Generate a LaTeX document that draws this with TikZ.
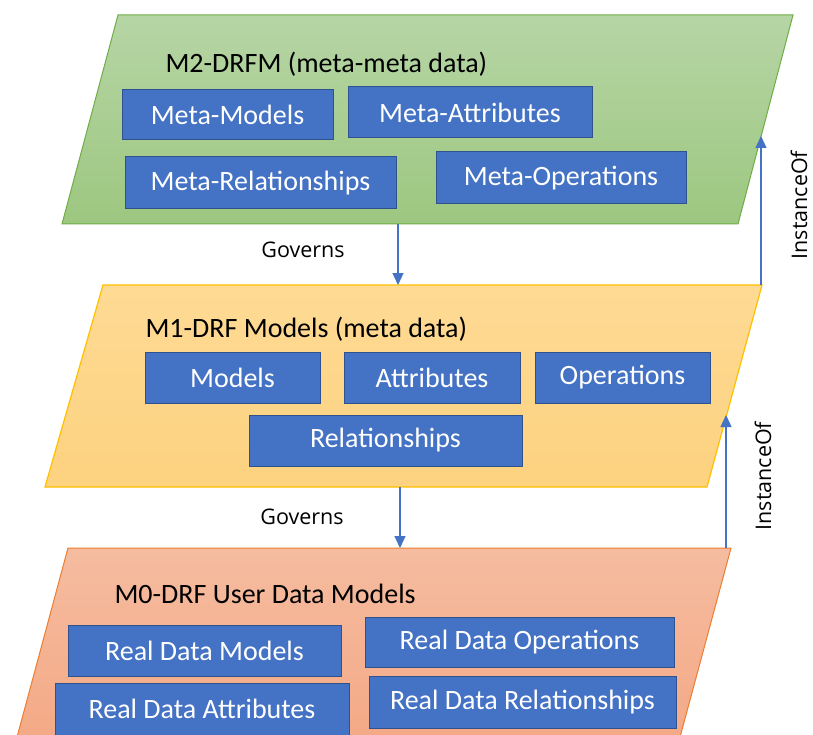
\documentclass[tikz,border=0pt]{standalone}
\usepackage{fontspec}
\setmainfont{Carlito}
\newfontfamily\tagfont{Open Sans}
\usetikzlibrary{arrows.meta}
\definecolor{boxblue}{HTML}{4472C4}
\definecolor{boxedge}{HTML}{2F528F}
\definecolor{greenedge}{HTML}{70AD47}
\definecolor{yellowedge}{HTML}{FFC000}
\definecolor{orangeedge}{HTML}{ED7D31}
\tikzset{
    block/.style={draw=boxedge, fill=boxblue, text=white, line width=1pt,
        inner sep=0pt, font=\fontsize{28}{32}\selectfont},
    layertitle/.style={anchor=west, font=\fontsize{28}{32}\selectfont},
    flow/.style={draw=boxblue, line width=1.3pt, -{Triangle[length=12pt,width=11pt]}},
    tag/.style={inner sep=0.5pt, font=\tagfont\fontsize{21.5}{24}\selectfont}
}

\begin{document}
\begin{tikzpicture}[x=1pt,y=-1pt]
  \clip (0,0) rectangle (813,735);
  \fill[white] (0,0) rectangle (813,735);
  % Draw layers
  \draw[greenedge, line width=1pt, top color={rgb,255:red,182;green,213;blue,165},
        bottom color={rgb,255:red,157;green,199;blue,128}]
        (118,15) -- (793,15) -- (738,224) -- (62,224) -- cycle;
  \draw[yellowedge, line width=1.2pt, top color={rgb,255:red,254;green,218;blue,148},
        bottom color={rgb,255:red,253;green,210;blue,128}]
        (103,285) -- (762,285) -- (707,487) -- (45,487) -- cycle;
  \draw[orangeedge, line width=1pt, top color={rgb,255:red,245;green,188;blue,160},
        bottom color={rgb,255:red,244;green,168;blue,132}]
        (68,548) -- (731,548) -- (676,752) -- (13,752) -- cycle;
  % Draw layer titles
  \node[layertitle] (m2title) at (162,64) {M2-DRFM (meta-meta data)};
  \node[layertitle] (m1title) at (142,329) {M1-DRF Models (meta data)};
  \node[layertitle] (m0title) at (111,594) {M0-DRF User Data Models};
  % Draw M2 blocks
  \node[block, minimum width=211pt, minimum height=50pt] (metamodels) at (227.5,115) {Meta-Models};
  \node[block, minimum width=244pt, minimum height=51pt] (metaattr) at (470,112.5) {Meta-Attributes};
  \node[block, minimum width=271pt, minimum height=52pt] (metarel) at (260.5,183) {Meta-Relationships};
  \node[block, minimum width=250pt, minimum height=52pt] (metaop) at (561,178) {Meta-Operations};
  % Draw M1 blocks
  \node[block, minimum width=175pt, minimum height=51pt] (models) at (232.5,377.5) {Models};
  \node[block, minimum width=176pt, minimum height=51pt] (attr) at (432,377.5) {Attributes};
  \node[block, minimum width=175pt, minimum height=51pt] (ops) at (622.5,377.5) {Operations};
  \node[block, minimum width=273pt, minimum height=51pt] (rel) at (385.5,440.5) {Relationships};
  % Draw M0 blocks
  \node[block, minimum width=273pt, minimum height=51pt] (realmodels) at (204.5,650.5) {Real Data Models};
  \node[block, minimum width=309pt, minimum height=50pt] (realops) at (519.5,642) {Real Data Operations};
  \node[block, minimum width=294pt, minimum height=52pt] (realattr) at (202,709) {Real Data Attributes};
  \node[block, minimum width=307pt, minimum height=52pt] (realrel) at (522.5,702) {Real Data Relationships};
  % Draw arrows
  \coordinate (m2bot) at (398,224);
  \coordinate (m1top) at (398,285);
  \coordinate (m1bot) at (400,487);
  \coordinate (m0top) at (400,548);
  \coordinate (m1right) at (761,285);
  \coordinate (m2right) at (761,136);
  \coordinate (m0right) at (726,548);
  \coordinate (m1side) at (726,415);
  \draw[flow] (m2bot) -- (m1top);
  \draw[flow] (m1bot) -- (m0top);
  \draw[flow] (m1right) -- (m2right);
  \draw[flow] (m0right) -- (m1side);
  % Draw labels
  \node[tag] (gov1) at (303,250) {Governs};
  \node[tag] (gov2) at (302,517) {Governs};
  \node[tag, rotate=90] (inst1) at (799,205) {InstanceOf};
  \node[tag, rotate=90] (inst2) at (763,476) {InstanceOf};
\end{tikzpicture}
\end{document}
